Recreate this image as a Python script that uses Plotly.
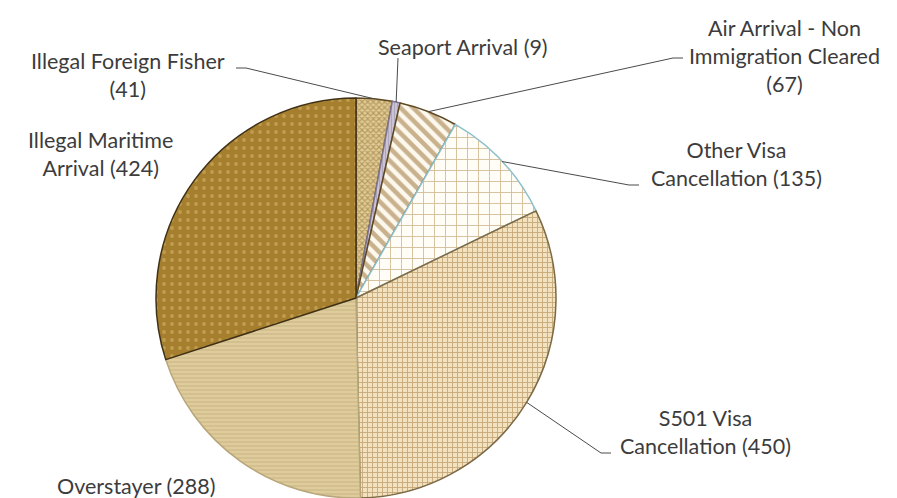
import math
import plotly.graph_objects as go

categories = ["Illegal Foreign Fisher", "Seaport Arrival", "Air Arrival - Non Immigration Cleared",
              "Other Visa Cancellation", "S501 Visa Cancellation", "Overstayer", "Illegal Maritime Arrival"]
values = [41, 9, 67, 135, 450, 288, 424]
label_texts = ["Illegal Foreign Fisher<br>(41)", "Seaport Arrival (9)",
               "Air Arrival - Non<br>Immigration Cleared<br>(67)", "Other Visa<br>Cancellation (135)",
               "S501 Visa<br>Cancellation (450)", "Overstayer (288)", "Illegal Maritime<br>Arrival (424)"]

W, H = 897, 498
CX, CY, R = 356, 298, 200  # pie centre / radius in pixels

base_colors = ["#e0cb96", "#cbc2d4", "#fdf8ee", "#fffdf6", "#f2e2c0", "#dfcc9c", "#a67f2e"]
pat_shapes = ["x", "|", "\\", "+", "+", "-", "."]
pat_fg = ["#8e6a2a", "#8f86a0", "#94692a", "#a87c3c", "#9e7236", "#bea672", "#d8ba72"]
pat_size = [4, 3, 9, 11, 5, 4, 8]
pat_sol = [0.5, 0.3, 0.5, 0.16, 0.34, 0.32, 0.18]
line_colors = ["#5e4822", "#7d7590", "#5e4822", "#8cc0cc", "#7d6a45", "#b8a57a", "#3f3116"]

fig = go.Figure(go.Pie(
    labels=categories, values=values, sort=False, direction="clockwise", rotation=0,
    textinfo="none", hoverinfo="label+value",
    marker=dict(colors=base_colors,
                line=dict(color=line_colors, width=1.5),
                pattern=dict(shape=pat_shapes, fgcolor=pat_fg, size=pat_size,
                             solidity=pat_sol, fillmode="overlay")),
    domain=dict(x=[(CX - R) / W, (CX + R) / W], y=[(H - CY - R) / H, (H - CY + R) / H]),
    showlegend=False,
))

# label positions (pixel centres) and leader-line anchor points next to the text
label_pos = [(128, 75), (463, 47), (784, 56), (736, 164), (705, 432), (136, 486), (100, 154)]
leader_from = [(236, 68), (398, 58), (683, 58), (639, 185), (611, 453), None, None]

def px(x):
    return x / W

def py(y):
    return 1 - y / H

annotations = []
for txt, (lx, ly) in zip(label_texts, label_pos):
    annotations.append(dict(x=px(lx), y=py(ly), xref="paper", yref="paper", text=txt,
                            showarrow=False, xanchor="center", yanchor="middle",
                            font=dict(family="Lato, Open Sans, sans-serif", size=21.5, color="#3c3c3c")))

shapes = []
total = sum(values)
cum = 0
for v, lf in zip(values, leader_from):
    mid = (cum + v / 2) / total * 2 * math.pi
    cum += v
    if lf is None:
        continue
    ex = CX + R * math.sin(mid)
    ey = CY - R * math.cos(mid)
    fx, fy = lf
    if abs(fx - ex) < 10:
        path = f"M {px(fx)} {py(fy)} L {px(ex)} {py(ey)}"
    else:
        hx = fx + 10 if fx < CX else fx - 10
        path = f"M {px(fx)} {py(fy)} L {px(hx)} {py(fy)} L {px(ex)} {py(ey)}"
    shapes.append(dict(type="path", xref="paper", yref="paper", path=path,
                       line=dict(color="#4a4a4a", width=1)))

fig.update_layout(width=W, height=H, margin=dict(l=0, r=0, t=0, b=0),
                  paper_bgcolor="white", plot_bgcolor="white",
                  annotations=annotations, shapes=shapes)
fig.write_html("out.html", config={"displayModeBar": False},
               post_script="document.body.style.margin='0';")
